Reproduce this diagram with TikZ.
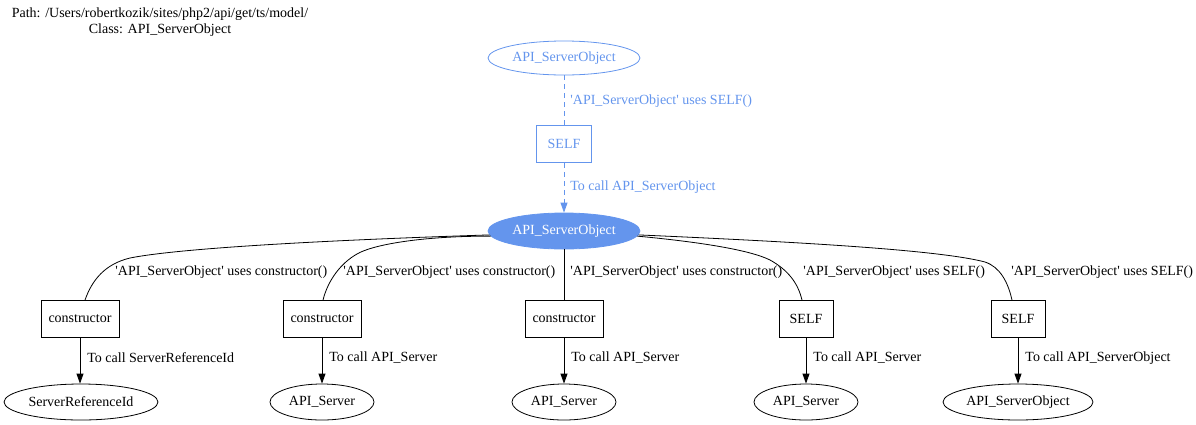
\documentclass[tikz,border=0pt]{standalone}
\usepackage{fontspec}
\setmainfont{Liberation Serif}
\usetikzlibrary{shapes.geometric,arrows.meta}
\definecolor{cblue}{HTML}{6495ED}
\newcommand{\sq}{\textquotesingle}
\begin{document}
\begin{tikzpicture}[x=1pt,y=-1pt,line width=0.8pt,
  font=\fontsize{14}{16}\selectfont,
  ell/.style={ellipse,draw,inner sep=0pt,minimum height=36pt},
  box/.style={rectangle,draw,inner sep=0pt,minimum height=37pt},
  lbl/.style={anchor=west,inner sep=0pt},
  arr/.style={-{Triangle[length=10pt,width=7pt]}}]
\useasboundingbox (0,0) rectangle (1196,424);
% title
\node[align=center,inner sep=0pt](title)at(160,22){Path: /Users/robertkozik/sites/php2/api/get/ts/model/\\Class: API\_ServerObject};
% blue part
\node[ell,cblue,text=cblue,minimum width=152pt,minimum height=34pt](top)at(564,58){API\_ServerObject};
\node[box,cblue,text=cblue,minimum width=55pt](self0)at(564,144){SELF};
\node[ell,draw=cblue,fill=cblue,text=white,minimum width=152pt](main)at(564,231){API\_ServerObject};
\draw[cblue,dash pattern=on 5pt off 4pt](top)--(self0);
\draw[cblue,dash pattern=on 5pt off 4pt,arr](self0)--(main);
\node[lbl,text=cblue](l0)at(570,101){\sq API\_ServerObject\sq{} uses SELF()};
\node[lbl,text=cblue](m0)at(570,187){To call API\_ServerObject};
% middle row
\node[box,minimum width=78pt](c1)at(80,319){constructor};
\node[box,minimum width=78pt](c2)at(322,319){constructor};
\node[box,minimum width=78pt](c3)at(564,319){constructor};
\node[box,minimum width=54pt](s1)at(806,319){SELF};
\node[box,minimum width=54pt](s2)at(1018,319){SELF};
% bottom row
\node[ell,minimum width=154pt](e1)at(81,402){ServerReferenceId};
\node[ell,minimum width=104pt](e2)at(322,402){API\_Server};
\node[ell,minimum width=104pt](e3)at(564,402){API\_Server};
\node[ell,minimum width=104pt](e4)at(806,402){API\_Server};
\node[ell,minimum width=150pt](e5)at(1018,402){API\_ServerObject};
% curved edges
\draw(main.183).. controls (330,240) and (180,248) ..(130,258)
  .. controls (105,264) and (92,280) ..([xshift=5pt]c1.north);
\draw(main.184).. controls (420,236) and (372,245) ..(357,254)
  .. controls (341,263) and (328,280) ..([xshift=1pt]c2.north);
\draw(main)--(c3);
\draw(main.356).. controls (700,242) and (750,250) ..(770,260)
  .. controls (788,270) and (798,283) ..([xshift=-4pt]s1.north);
\draw(main.357).. controls (800,242) and (940,250) ..(985,262)
  .. controls (1000,267) and (1008,282) ..([xshift=-6pt]s2.north);
\node[lbl](l1)at(115,272){\sq API\_ServerObject\sq{} uses constructor()};
\node[lbl](l2)at(343,272){\sq API\_ServerObject\sq{} uses constructor()};
\node[lbl](l3)at(570,272){\sq API\_ServerObject\sq{} uses constructor()};
\node[lbl](l4)at(803,272){\sq API\_ServerObject\sq{} uses SELF()};
\node[lbl](l5)at(1011,272){\sq API\_ServerObject\sq{} uses SELF()};
% lower edges
\draw[arr](c1)--(c1|-e1.north);
\draw[arr](c2)--(e2);
\draw[arr](c3)--(e3);
\draw[arr](s1)--(e4);
\draw[arr](s2)--(e5);
\node[lbl](m1)at(87,358){To call ServerReferenceId};
\node[lbl](m2)at(329,358){To call API\_Server};
\node[lbl](m3)at(571,358){To call API\_Server};
\node[lbl](m4)at(813,358){To call API\_Server};
\node[lbl](m5)at(1025,358){To call API\_ServerObject};
\end{tikzpicture}
\end{document}
